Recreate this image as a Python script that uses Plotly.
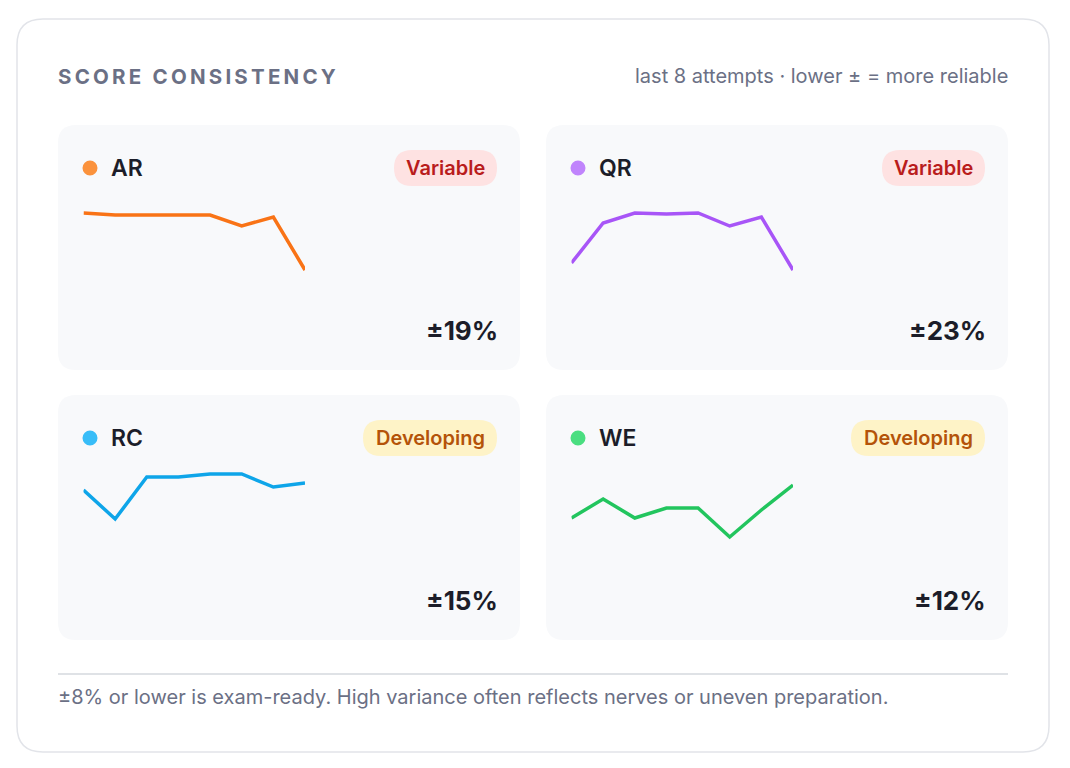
import plotly.graph_objects as go

# ---------------- data ----------------
subjects = ["AR", "QR", "RC", "WE"]
attempts = [1, 2, 3, 4, 5, 6, 7, 8]
ar_scores = [80, 78, 78, 78, 78, 67, 76, 23]
qr_scores = [30, 70, 80, 79, 80, 67, 76, 23]
rc_scores = [73, 44, 86, 86, 89, 89, 76, 80]
we_scores = [45, 64, 45, 55, 55, 26, 53, 78]
spreads = ["±19%", "±23%", "±15%", "±12%"]
statuses = ["Variable", "Variable", "Developing", "Developing"]
title_text = "SCORE CONSISTENCY"
subtitle_text = "last 8 attempts · lower ± = more reliable"
footer_text = "±8% or lower is exam-ready. High variance often reflects nerves or uneven preparation."

series = [ar_scores, qr_scores, rc_scores, we_scores]

# ---------------- styles ----------------
W, H = 1070, 768
FONT = "Inter"
line_colors = ["#f97316", "#a855f7", "#0ea5e9", "#22c55e"]
dot_colors = ["#fb923c", "#c084fc", "#38bdf8", "#4ade80"]
badge_style = {
    "Variable": dict(bg="#fee2e2", fg="#b91c1c", w=103),
    "Developing": dict(bg="#fef3c7", fg="#b45309", w=134),
}
panel_x = [58, 546, 58, 546]
panel_y = [125, 125, 395, 395]
PW, PH, PR = 462, 245, 18


def rrect(x0, y0, x1, y1, r):
    return (f"M{x0+r},{y0} L{x1-r},{y0} Q{x1},{y0} {x1},{y0+r} "
            f"L{x1},{y1-r} Q{x1},{y1} {x1-r},{y1} L{x0+r},{y1} "
            f"Q{x0},{y1} {x0},{y1-r} L{x0},{y0+r} Q{x0},{y0} {x0+r},{y0} Z")


fig = go.Figure()
shapes = []
annotations = []

# outer card
shapes.append(dict(type="path", path=rrect(17, 19, 1049, 752, 26), xref="x", yref="y",
                   fillcolor="#ffffff", line=dict(color="#e2e4e9", width=1.5), layer="below"))

# title, spaced letters
spaced_title = "\u2009".join(title_text)
annotations.append(dict(x=56, y=76, xref="x", yref="y", text=spaced_title, showarrow=False,
                        xanchor="left", yanchor="middle",
                        font=dict(family=FONT, size=20.5, color="#6b7085", weight=700)))
annotations.append(dict(x=1010, y=76, xref="x", yref="y", text=subtitle_text, showarrow=False,
                        xanchor="right", yanchor="middle",
                        font=dict(family=FONT, size=20, color="#6b7085")))

for i, name in enumerate(subjects):
    px, py = panel_x[i], panel_y[i]
    shapes.append(dict(type="path", path=rrect(px, py, px + PW, py + PH, PR), xref="x", yref="y",
                       fillcolor="#f8f9fb", line=dict(width=0), layer="below"))
    # legend dot
    cx, cy = px + 32, py + 43
    shapes.append(dict(type="circle", x0=cx - 7.5, x1=cx + 7.5, y0=cy - 7.5, y1=cy + 7.5,
                       xref="x", yref="y", fillcolor=dot_colors[i], line=dict(width=0)))
    annotations.append(dict(x=px + 51, y=cy, xref="x", yref="y", text=name, showarrow=False,
                            xanchor="left", yanchor="middle",
                            font=dict(family=FONT, size=23, color="#1c1d29", weight=600)))
    # badge
    st = badge_style[statuses[i]]
    bx1 = px + 439
    bx0 = bx1 - st["w"]
    shapes.append(dict(type="path", path=rrect(bx0, cy - 18, bx1, cy + 18, 18), xref="x", yref="y",
                       fillcolor=st["bg"], line=dict(width=0)))
    annotations.append(dict(x=(bx0 + bx1) / 2, y=cy, xref="x", yref="y", text=statuses[i],
                            showarrow=False, xanchor="center", yanchor="middle",
                            font=dict(family=FONT, size=20, color=st["fg"], weight=600)))
    # spread
    annotations.append(dict(x=px + 442, y=py + 205, xref="x", yref="y", text=spreads[i],
                            showarrow=False, xanchor="right", yanchor="middle",
                            font=dict(family=FONT, size=26, color="#1c1d29", weight=700)))
    # sparkline
    k = i + 2
    x0s, x1s = px + 25.5, px + 247
    ytop, ybot = py + 68, py + 168
    fig.add_trace(go.Scatter(x=attempts, y=series[i], mode="lines",
                             line=dict(color=line_colors[i], width=3.5),
                             xaxis=f"x{k}", yaxis=f"y{k}", hoverinfo="skip", showlegend=False))
    fig.layout[f"xaxis{k}"] = dict(domain=[x0s / W, x1s / W], range=[1, 8], visible=False,
                                   fixedrange=True, anchor=f"y{k}")
    fig.layout[f"yaxis{k}"] = dict(domain=[1 - ybot / H, 1 - ytop / H], range=[0, 100], visible=False,
                                   fixedrange=True, anchor=f"x{k}")

# divider and footer
shapes.append(dict(type="line", x0=58, x1=1008, y0=674, y1=674, xref="x", yref="y",
                   line=dict(color="#d5d8de", width=1.5)))
annotations.append(dict(x=56, y=697, xref="x", yref="y", text=footer_text, showarrow=False,
                        xanchor="left", yanchor="middle",
                        font=dict(family=FONT, size=20, color="#6b7085")))

fig.update_layout(
    width=W, height=H,
    margin=dict(l=0, r=0, t=0, b=0),
    paper_bgcolor="#ffffff", plot_bgcolor="rgba(0,0,0,0)",
    xaxis=dict(range=[0, W], domain=[0, 1], visible=False, fixedrange=True),
    yaxis=dict(range=[H, 0], domain=[0, 1], visible=False, fixedrange=True),
    shapes=shapes, annotations=annotations, showlegend=False,
)

fig.write_html("out.html", config={"displayModeBar": False})
